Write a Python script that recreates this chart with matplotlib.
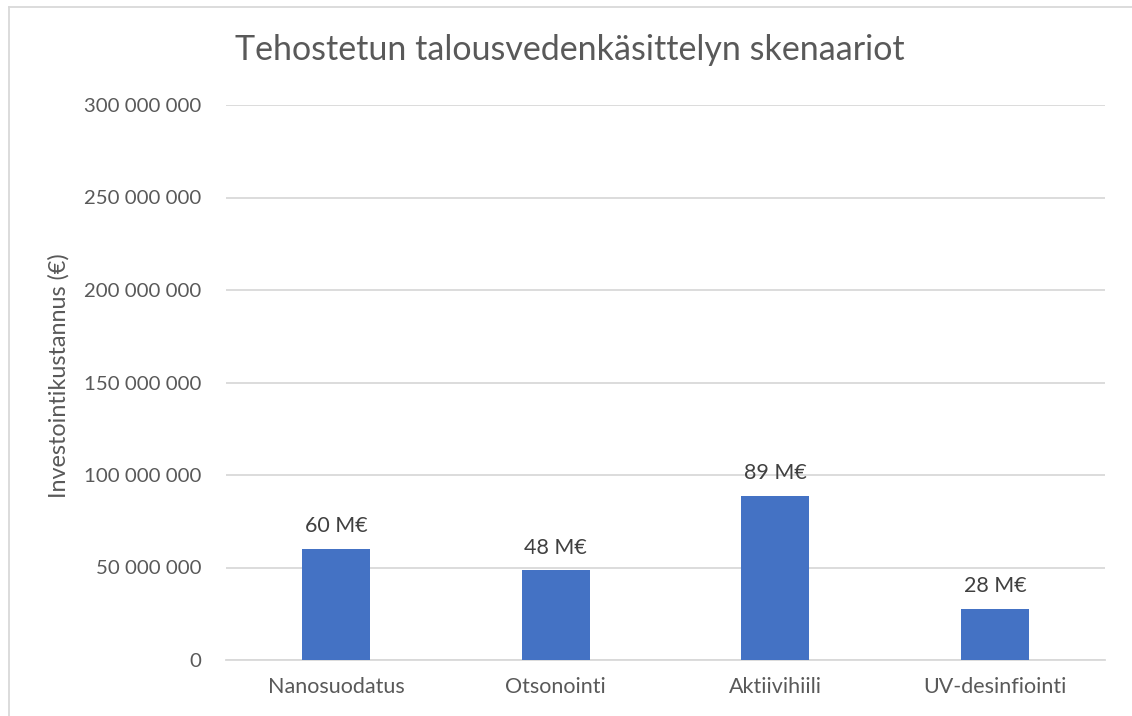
import matplotlib.pyplot as plt
from matplotlib.ticker import FuncFormatter

categories = ["Nanosuodatus", "Otsonointi", "Aktiivihiili", "UV-desinfiointi"]
values = [60_200_000, 48_400_000, 88_900_000, 27_600_000]
labels = ["60 M€", "48 M€", "89 M€", "28 M€"]
yticks = [0, 50_000_000, 100_000_000, 150_000_000, 200_000_000, 250_000_000, 300_000_000]

plt.rcParams['font.family'] = ['Lato', 'DejaVu Sans']
txt = '#595959'

fig = plt.figure(figsize=(11.32, 7.16), dpi=100)
ax = fig.add_axes([226 / 1132, 1 - 660 / 716, 879 / 1132, 555 / 716])

x = range(len(categories))
ax.bar(x, values, width=0.31, color='#4472C4', zorder=3)
for i, v in enumerate(values):
    ax.annotate(labels[i], (i, v), xytext=(0, 9), textcoords='offset points',
                ha='center', va='bottom', fontsize=15.5, color='#404040')

ax.set_xlim(-0.5, len(categories) - 0.5)
ax.set_ylim(0, 300_000_000)
ax.set_yticks(yticks)
ax.yaxis.set_major_formatter(FuncFormatter(lambda v, p: f"{int(v):,}".replace(",", " ")))
ax.set_xticks(list(x))
ax.set_xticklabels(categories, fontsize=15.5)
ax.grid(axis='y', color='#d9d9d9', linewidth=1.3, zorder=0)
for s in ['top', 'right', 'left']:
    ax.spines[s].set_visible(False)
ax.spines['bottom'].set_color('#d9d9d9')
ax.spines['bottom'].set_linewidth(1.3)
ax.tick_params(length=0, labelcolor=txt)
ax.tick_params(axis='y', labelsize=14.7, pad=18)
ax.tick_params(axis='x', pad=12)
ax.set_ylabel("Investointikustannus (€)", fontsize=16.8, color=txt)
ax.yaxis.set_label_coords((70 - 226) / 879, 0.513)
fig.text(570 / 1132, 1 - 50 / 716, "Tehostetun talousvedenkäsittelyn skenaariot",
         ha='center', va='center', fontsize=24.5, color=txt)

# chart frame (partly cropped in the original)
fig.add_artist(plt.Line2D([9 / 1132, 9 / 1132], [0, 1 - 7 / 716], transform=fig.transFigure, color='#d9d9d9', lw=1.3))
fig.add_artist(plt.Line2D([9 / 1132, 1], [1 - 7 / 716, 1 - 7 / 716], transform=fig.transFigure, color='#d9d9d9', lw=1.3))

fig.savefig("out.png", dpi=100)
